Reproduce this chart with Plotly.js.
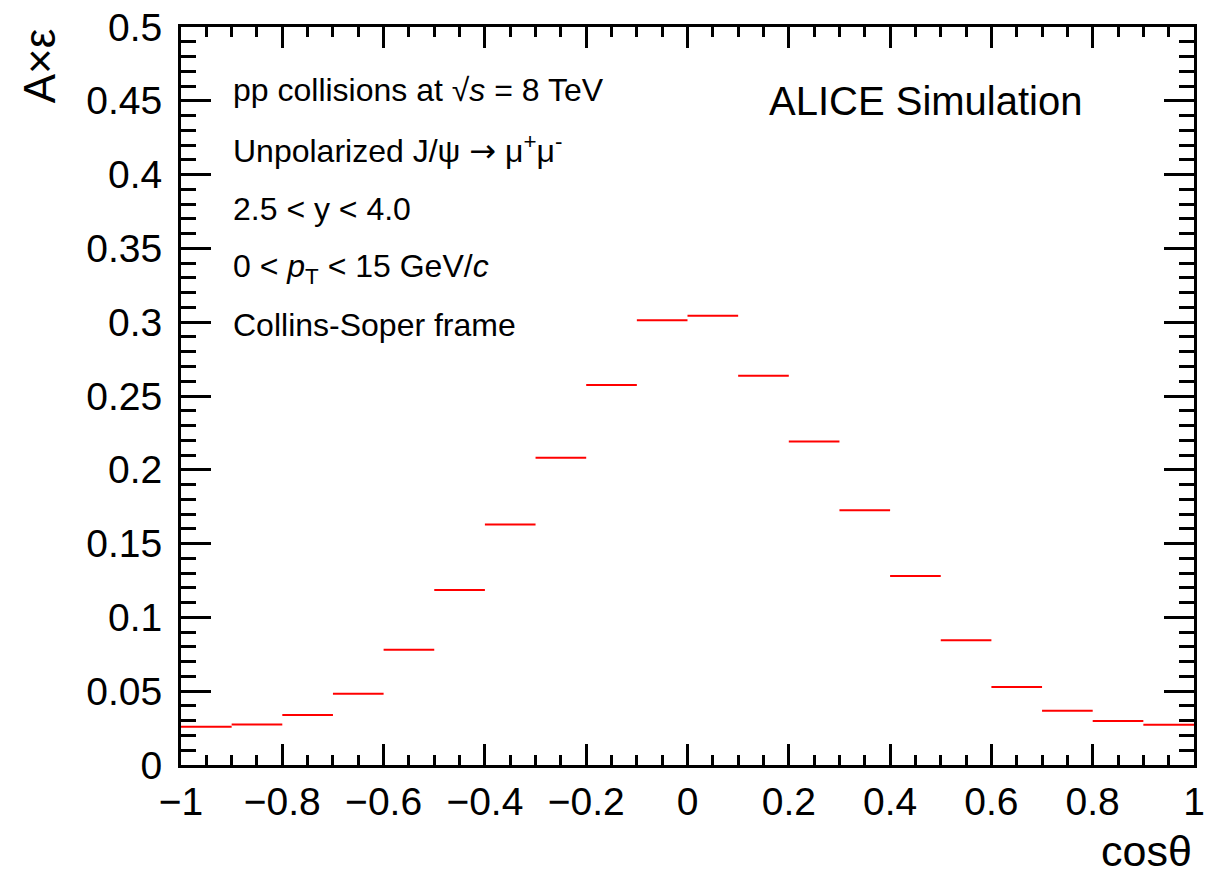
<!DOCTYPE html>
<html>
<head>
<meta charset="utf-8">
<script src="https://cdn.plot.ly/plotly-3.0.1.min.js"></script>
<style>
  html, body { margin: 0; padding: 0; background: #fff; }
  #chart { width: 1216px; height: 880px; }
</style>
</head>
<body>
<div id="chart"></div>
<script>
// cos(theta) bin centres (bin width 0.1, from -1 to 1)
const binCenters = [-0.95, -0.85, -0.75, -0.65, -0.55, -0.45, -0.35, -0.25, -0.15, -0.05,
                     0.05,  0.15,  0.25,  0.35,  0.45,  0.55,  0.65,  0.75,  0.85,  0.95];
const binHalfWidth = 0.05;
// Acceptance x efficiency per bin
const accEff = [0.0259, 0.0275, 0.0338, 0.0483, 0.0780, 0.1185, 0.1629, 0.2082, 0.2575, 0.3013,
                0.3044, 0.2638, 0.2191, 0.1726, 0.1281, 0.0846, 0.0529, 0.0368, 0.0298, 0.0272];

const xTickVals = [-1, -0.8, -0.6, -0.4, -0.2, 0, 0.2, 0.4, 0.6, 0.8, 1];
const xTickText = ["\u22121", "\u22120.8", "\u22120.6", "\u22120.4", "\u22120.2", "0", "0.2", "0.4", "0.6", "0.8", "1"];
const yTickVals = [0, 0.05, 0.1, 0.15, 0.2, 0.25, 0.3, 0.35, 0.4, 0.45, 0.5];
const yTickText = ["0", "0.05", "0.1", "0.15", "0.2", "0.25", "0.3", "0.35", "0.4", "0.45", "0.5"];

const infoLines = [
  "pp collisions at \u221A<i>s</i> = 8 TeV",
  "Unpolarized J/\u03C8 <span style=\"font-family:'DejaVu Sans'\">\u2192</span> \u03BC<sup>+</sup>\u03BC<sup>-</sup>",
  "2.5 < y < 4.0",
  "0 < <i>p</i><sub>T</sub> < 15 GeV/<i>c</i>",
  "Collins-Soper frame"
];
const infoY = [0.914, 0.834, 0.754, 0.673, 0.596];

const FONT = "'Liberation Sans', Arial, Helvetica, sans-serif";

const trace = {
  type: 'scatter',
  mode: 'markers',
  x: binCenters,
  y: accEff,
  marker: { size: 0.1, color: 'rgba(255,0,0,0)' },
  error_x: { type: 'constant', value: binHalfWidth, width: 0, thickness: 2, color: '#ff0000' },
  hoverinfo: 'x+y',
  showlegend: false
};

const annotations = infoLines.map((t, i) => ({
  xref: 'paper', yref: 'paper', x: 0.049, y: infoY[i],
  xanchor: 'left', yanchor: 'middle', showarrow: false,
  text: t, font: { family: FONT, size: 32, color: '#000' }
}));
annotations.push({
  xref: 'paper', yref: 'paper', x: 0.578, y: 0.900,
  xanchor: 'left', yanchor: 'middle', showarrow: false,
  text: 'ALICE Simulation', font: { family: FONT, size: 40, color: '#000' }
});
annotations.push({
  xref: 'paper', yref: 'paper', x: 1.0, y: -0.117,
  xanchor: 'right', yanchor: 'middle', showarrow: false,
  text: 'cos\u03B8', font: { family: FONT, size: 43, color: '#000' }
});
annotations.push({
  xref: 'paper', yref: 'paper', x: -0.14, y: 0.947,
  xanchor: 'center', yanchor: 'middle', showarrow: false, textangle: -90,
  text: 'A\u00D7\u03B5', font: { family: FONT, size: 44, color: '#000' }
});

const layout = {
  width: 1216, height: 880,
  margin: { l: 181, r: 22, t: 27, b: 115 },
  paper_bgcolor: '#fff', plot_bgcolor: '#fff',
  font: { family: FONT, size: 39, color: '#000' },
  xaxis: {
    range: [-1, 1], tickvals: xTickVals, ticktext: xTickText,
    ticks: 'inside', ticklen: 21, tickwidth: 3, tickcolor: '#000',
    minor: { dtick: 0.05, tick0: -1, ticks: 'inside', ticklen: 10, tickwidth: 3, tickcolor: '#000' },
    showline: true, linewidth: 3, linecolor: '#000', mirror: 'allticks',
    showgrid: false, zeroline: false,
    tickfont: { family: FONT, size: 39, color: '#000' }
  },
  yaxis: {
    range: [0, 0.5], tickvals: yTickVals, ticktext: yTickText,
    ticks: 'inside', ticklen: 30, tickwidth: 3, tickcolor: '#000',
    minor: { dtick: 0.01, tick0: 0, ticks: 'inside', ticklen: 15, tickwidth: 3, tickcolor: '#000' },
    showline: true, linewidth: 3, linecolor: '#000', mirror: 'allticks',
    showgrid: false, zeroline: false,
    ticklabelstandoff: 8,
    tickfont: { family: FONT, size: 39, color: '#000' }
  },
  annotations: annotations
};

Plotly.newPlot('chart', [trace], layout, { staticPlot: true, displayModeBar: false });
</script>
</body>
</html>
